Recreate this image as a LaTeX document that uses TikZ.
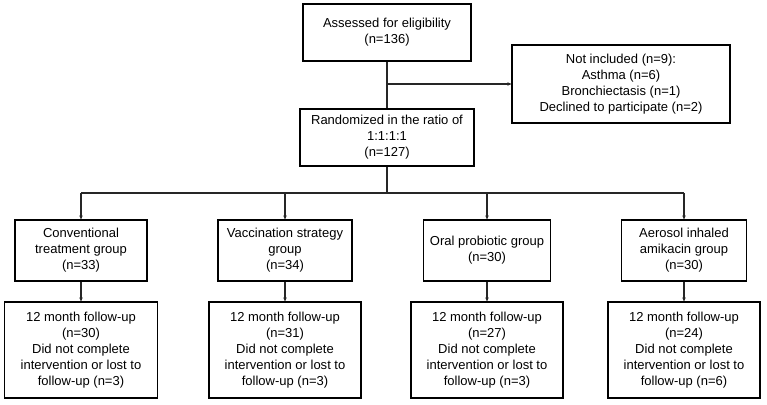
\documentclass[tikz,border=0pt]{standalone}
\usepackage{fontspec}
\setmainfont{Liberation Sans}
\usetikzlibrary{arrows.meta}
\begin{document}
\begin{tikzpicture}[x=1pt,y=-1pt,
  box/.style={draw=black, line width=1.1pt, inner sep=0pt, align=center,
    font=\fontsize{13}{16}\selectfont},
  conn/.style={line width=1.1pt, draw=black!85},
  arr/.style={conn, -{Stealth[length=4pt,width=3.5pt]}}]
\useasboundingbox (0,0) rectangle (767,404);
\node[box, minimum width=168, minimum height=57] (assess) at (387,32.5) {Assessed for eligibility\\(n=136)};
\node[box, minimum width=218, minimum height=78] (notinc) at (621,84) {Not included (n=9):\\Asthma (n=6)\\Bronchiectasis (n=1)\\Declined to participate (n=2)};
\node[box, minimum width=174, minimum height=57] (rand) at (387,137.5) {Randomized in the ratio of\\1:1:1:1\\(n=127)};
\node[box, minimum width=132, minimum height=61] (conv) at (81,250.5) {Conventional\\treatment group\\(n=33)};
\node[box, minimum width=134, minimum height=61] (vacc) at (285,250.5) {Vaccination strategy\\group\\(n=34)};
\node[box, minimum width=127, minimum height=61] (oral) at (487,250.5) {Oral probiotic group\\(n=30)};
\node[box, minimum width=125, minimum height=61] (aero) at (684,250.5) {Aerosol inhaled\\amikacin group\\(n=30)};
\node[box, minimum width=153, minimum height=96] (fu1) at (81,350) {12 month follow-up\\(n=30)\\Did not complete\\intervention or lost to\\follow-up (n=3)};
\node[box, minimum width=152, minimum height=96] (fu2) at (285,350) {12 month follow-up\\(n=31)\\Did not complete\\intervention or lost to\\follow-up (n=3)};
\node[box, minimum width=152, minimum height=96] (fu3) at (487,350) {12 month follow-up\\(n=27)\\Did not complete\\intervention or lost to\\follow-up (n=3)};
\node[box, minimum width=152, minimum height=96] (fu4) at (684,350) {12 month follow-up\\(n=24)\\Did not complete\\intervention or lost to\\follow-up (n=6)};
\coordinate (branch) at (387,84);
\coordinate (bus) at (387,193);
\draw[conn] (assess.south) -- (rand.north);
\draw[arr] (branch) -- (notinc.west);
\draw[conn] (rand.south) -- (bus);
\draw[conn] (conv.north |- bus) -- (aero.north |- bus);
\foreach \g in {conv,vacc,oral,aero}{\draw[arr] (\g.north |- bus) -- (\g.north);}
\draw[arr] (conv.south) -- (fu1.north);
\draw[arr] (vacc.south) -- (fu2.north);
\draw[arr] (oral.south) -- (fu3.north);
\draw[arr] (aero.south) -- (fu4.north);
\end{tikzpicture}
\end{document}
